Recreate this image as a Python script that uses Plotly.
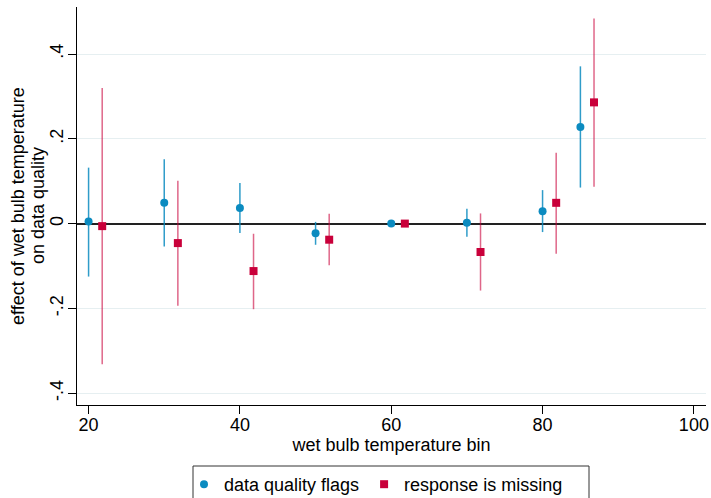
import plotly.graph_objects as go

# Data
bins_flags = [20, 30, 40, 50, 60, 70, 80, 85]
coef_flags = [0.005, 0.049, 0.037, -0.023, 0.0, 0.002, 0.029, 0.228]
lo_flags = [-0.125, -0.054, -0.022, -0.050, 0.0, -0.031, -0.020, 0.085]
hi_flags = [0.132, 0.152, 0.096, 0.004, 0.0, 0.035, 0.079, 0.371]

bins_missing = [21.8, 31.8, 41.8, 51.8, 61.8, 71.8, 81.8, 86.8]
coef_missing = [-0.006, -0.046, -0.112, -0.038, 0.0, -0.067, 0.049, 0.286]
lo_missing = [-0.332, -0.194, -0.202, -0.098, 0.0, -0.158, -0.071, 0.087]
hi_missing = [0.320, 0.101, -0.024, 0.023, 0.0, 0.024, 0.167, 0.484]

y_tickvals = [-0.4, -0.2, 0, 0.2, 0.4]
y_ticktext = ["-.4", "-.2", "0", ".2", ".4"]
x_tickvals = [20, 40, 60, 80, 100]
y_title_lines = ["effect of wet bulb temperature", "on data quality"]

BLUE = "#0b8bc0"
BLUE_CI = "rgba(11,139,192,0.85)"
RED = "#c9003a"
RED_CI = "rgba(201,0,58,0.6)"
FONT = "Liberation Sans, Arial, Helvetica, sans-serif"

# plot area in pixels
L, R, T, B = 77, 706, 7, 405
W, H = R - L, B - T

fig = go.Figure()
fig.add_trace(go.Scatter(
    x=bins_flags, y=coef_flags, mode="markers", name="data quality flags",
    marker=dict(symbol="circle", size=8, color=BLUE),
    error_y=dict(type="data", symmetric=False,
                 array=[h - c for h, c in zip(hi_flags, coef_flags)],
                 arrayminus=[c - l for c, l in zip(coef_flags, lo_flags)],
                 color=BLUE_CI, thickness=1.5, width=0),
))
fig.add_trace(go.Scatter(
    x=bins_missing, y=coef_missing, mode="markers", name="response is missing",
    marker=dict(symbol="square", size=8, color=RED),
    error_y=dict(type="data", symmetric=False,
                 array=[h - c for h, c in zip(hi_missing, coef_missing)],
                 arrayminus=[c - l for c, l in zip(coef_missing, lo_missing)],
                 color=RED_CI, thickness=1.5, width=0),
))

annotations = [
    dict(text=y_title_lines[0], xref="paper", yref="paper",
         x=(18 - L) / W, y=0.5, xanchor="center", yanchor="middle",
         textangle=-90, showarrow=False, font=dict(size=18)),
    dict(text=y_title_lines[1], xref="paper", yref="paper",
         x=(38 - L) / W, y=0.5, xanchor="center", yanchor="middle",
         textangle=-90, showarrow=False, font=dict(size=18)),
]

fig.update_layout(
    width=711, height=498,
    margin=dict(l=L, r=711 - R, t=T, b=498 - B, autoexpand=False),
    paper_bgcolor="white", plot_bgcolor="white",
    font=dict(family=FONT, size=18, color="black"),
    showlegend=True,
    legend=dict(orientation="h", x=(184 - L) / W, y=(B - 466) / H,
                xanchor="left", yanchor="top",
                font=dict(size=18), borderwidth=0, bgcolor="rgba(0,0,0,0)",
                itemwidth=30, traceorder="normal"),
    xaxis=dict(range=[18.47, 101.6], tickvals=x_tickvals, ticks="outside", ticklen=8,
               tickcolor="black", showline=True, linecolor="black", linewidth=1,
               showgrid=False, zeroline=False, mirror=False, automargin=False,
               tickfont=dict(size=18), ticklabelstandoff=-5,
               title=dict(text="wet bulb temperature bin", standoff=2,
                          font=dict(size=18))),
    yaxis=dict(range=[-0.428, 0.511], tickvals=y_tickvals, ticktext=y_ticktext,
               ticks="outside", ticklen=8, tickcolor="black", tickangle=-90,
               showline=True, linecolor="black", linewidth=1, automargin=False,
               showgrid=True, gridcolor="#e6eff1", gridwidth=1,
               zeroline=True, zerolinecolor="#222222", zerolinewidth=2,
               tickfont=dict(size=18), ticklabelstandoff=-2),
    annotations=annotations,
    shapes=[dict(type="rect", xref="paper", yref="paper",
                 x0=(193 - L) / W, x1=(589 - L) / W,
                 y0=(B - 520) / H, y1=(B - 466) / H,
                 line=dict(color="#333333", width=1), fillcolor="rgba(0,0,0,0)")],
)

fig.write_html("out.html", config={"displayModeBar": False},
               post_script="document.body.style.margin='0px';")
